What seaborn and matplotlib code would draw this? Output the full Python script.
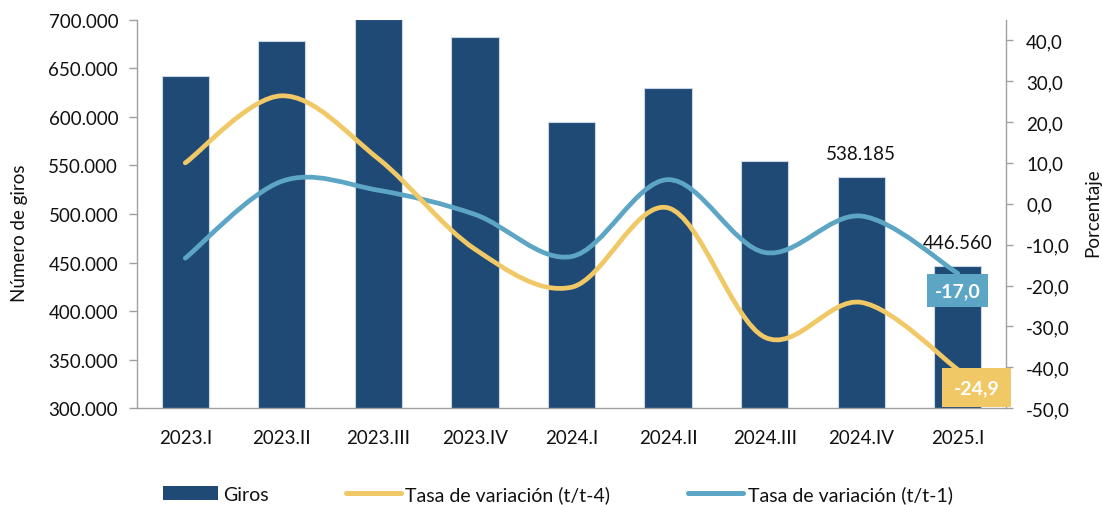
import numpy as np
import matplotlib
matplotlib.use("Agg")
import matplotlib.pyplot as plt
import seaborn as sns
from matplotlib.path import Path
from matplotlib.patches import PathPatch, Patch
from matplotlib.lines import Line2D
from matplotlib.ticker import FuncFormatter, FixedLocator

# ==============================
# DATOS
# ==============================
trimestres = ["2023.I", "2023.II", "2023.III", "2023.IV", "2024.I",
              "2024.II", "2024.III", "2024.IV", "2025.I"]
giros = [642400, 677800, 700500, 682500, 594400, 629700, 554900, 538185, 446560]
tasa_t4 = [10.0, 26.4, 11.0, -11.1, -20.4, -1.0, -32.6, -24.1, -40.5]
tasa_t1 = [-13.3, 5.5, 3.3, -2.6, -12.9, 5.9, -11.9, -3.0, -17.0]
etiquetas_barras = {7: "538.185", 8: "446.560"}
etiqueta_t4 = "-24,9"
etiqueta_t1 = "-17,0"

# ==============================
# ESTILO
# ==============================
sns.set_style("white")
plt.rcParams["font.family"] = ["Lato", "DejaVu Sans"]
plt.rcParams["font.size"] = 13.5

c_barra = "#1F4A76"
c_t4 = "#F0C866"
c_t1 = "#5DA5C4"
c_eje = "#A0A0A0"
c_txt = "#111111"


def curva_suave(xs, ys):
    # suavizado tipo Excel: bezier con puntos de control a 1/6
    pts = np.column_stack([xs, ys]).astype(float)
    n = len(pts)
    verts = [pts[0]]
    codes = [Path.MOVETO]
    for i in range(n - 1):
        p0 = pts[max(i - 1, 0)]
        p1 = pts[i]
        p2 = pts[i + 1]
        p3 = pts[min(i + 2, n - 1)]
        verts += [p1 + (p2 - p0) / 6, p2 - (p3 - p1) / 6, p2]
        codes += [Path.CURVE4] * 3
    return Path(verts, codes)


fig = plt.figure(figsize=(11.02, 5.06), dpi=100)
ax = fig.add_axes([0.1243, 0.1911, 0.7886, 0.768])

sns.barplot(x=trimestres, y=giros, color=c_barra, saturation=1, width=0.49,
            edgecolor="#C9D6E6", linewidth=0.8, ax=ax, zorder=2)
ax.set_ylim(300000, 700000)
ax.set_xlim(-0.5, 8.5)
ax.set_yticks(range(300000, 700001, 50000))
ax.yaxis.set_major_formatter(FuncFormatter(lambda v, p: f"{int(v):,}".replace(",", ".")))
ax.set_xlabel("")
ax.set_ylabel("")

# ticks del eje x entre categorias
ax.xaxis.set_minor_locator(FixedLocator(np.arange(-0.5, 9.0, 1.0)))
ax.tick_params(axis="x", which="major", length=0, pad=15, labelsize=13.5, labelcolor=c_txt)
ax.tick_params(axis="x", which="minor", length=4.5, width=1, color=c_eje, direction="out")
ax.tick_params(axis="y", length=5.5, width=1, color=c_eje, pad=8, labelsize=13.5,
               labelcolor=c_txt, direction="out", left=True)

for s in ["top", "right"]:
    ax.spines[s].set_visible(False)
for s in ["left", "bottom"]:
    ax.spines[s].set_color(c_eje)
    ax.spines[s].set_linewidth(1)

for i, txt in etiquetas_barras.items():
    ax.annotate(txt, xy=(i, giros[i]), xytext=(0, 17), textcoords="offset points",
                ha="center", va="center", fontsize=13.5, color=c_txt)

# ==============================
# EJE SECUNDARIO: TASAS
# ==============================
ax2 = ax.twinx()
ax2.set_ylim(-50, 45)
ax2.set_yticks(range(-50, 41, 10))
ax2.yaxis.set_major_formatter(FuncFormatter(lambda v, p: f"{v:.1f}".replace(".", ",")))
ax2.tick_params(axis="y", length=5, width=1, color=c_eje, pad=9.5, labelsize=13.5,
                labelcolor=c_txt, direction="out")
for s in ["top", "left", "bottom"]:
    ax2.spines[s].set_visible(False)
ax2.spines["right"].set_color(c_eje)
ax2.spines["right"].set_linewidth(1)

xs = np.arange(len(trimestres))
for serie, color in [(tasa_t1, c_t1), (tasa_t4, c_t4)]:
    ax2.add_patch(PathPatch(curva_suave(xs, serie), fill=False, edgecolor=color,
                            lw=3.4, capstyle="round", joinstyle="round", zorder=3))

ax2.annotate(etiqueta_t1, xy=(xs[-1], tasa_t1[-1]), xytext=(0, -12.5),
             textcoords="offset points", ha="center", va="center", fontsize=14,
             fontweight="bold", color="white", zorder=6,
             bbox=dict(boxstyle="square,pad=0.4", fc=c_t1, ec="none"))
ax2.annotate(etiqueta_t4, xy=(xs[-1], tasa_t4[-1]), xytext=(13.5, -13),
             textcoords="offset points", ha="center", va="center", fontsize=14,
             fontweight="bold", color="white", zorder=6,
             bbox=dict(boxstyle="square,pad=0.58", fc=c_t4, ec="none"))

# ==============================
# TITULOS DE EJES Y LEYENDA
# ==============================
fig.text(20 / 1102, 1 - 233 / 506, "Número de giros", rotation=90,
         ha="center", va="center", fontsize=13.5, color=c_txt)
fig.text(1093 / 1102, 1 - 213 / 506, "Porcentaje", rotation=90,
         ha="center", va="center", fontsize=13.5, color=c_txt)

handles = [Patch(facecolor=c_barra, edgecolor="none"),
           Line2D([], [], color=c_t4, lw=3.6, solid_capstyle="round"),
           Line2D([], [], color=c_t1, lw=3.6, solid_capstyle="round")]
fig.legend(handles, ["Giros", "Tasa de variación (t/t-4)", "Tasa de variación (t/t-1)"],
           loc="center", bbox_to_anchor=(558 / 1102, 1 - 495 / 506), ncol=3,
           frameon=False, fontsize=14, handlelength=2.8, handletextpad=0.25,
           columnspacing=4.0, labelcolor=c_txt)

fig.savefig("out.png", dpi=100)
